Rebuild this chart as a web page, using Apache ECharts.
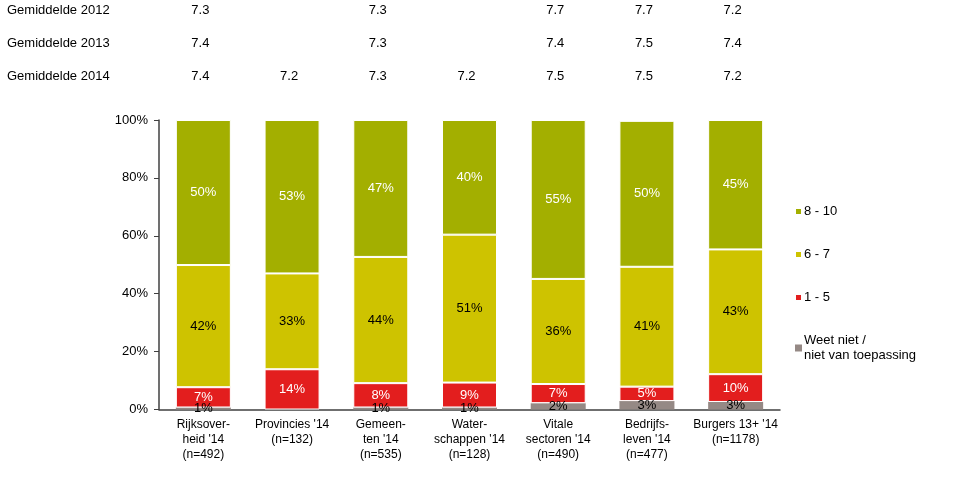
<!DOCTYPE html>
<html><head><meta charset="utf-8">
<script src="https://cdn.jsdelivr.net/npm/echarts@6/dist/echarts.min.js"></script>
<style>html,body{margin:0;padding:0;background:#fff}#c{width:969px;height:477px}</style>
</head><body><div id="c"></div>
<script>
const categories = ["Rijksover-\nheid '14\n(n=492)", "Provincies '14\n(n=132)", "Gemeen-\nten '14\n(n=535)", "Water-\nschappen '14\n(n=128)", "Vitale\nsectoren '14\n(n=490)", "Bedrijfs-\nleven '14\n(n=477)", "Burgers 13+ '14\n(n=1178)"];
const seriesNames = ["Weet niet /\nniet van toepassing", "1 - 5", "6 - 7", "8 - 10"];
const weetNiet = [0.7, null, 0.7, 0.7, 2.2, 2.9, 2.6];
const score1to5 = [7.0, 13.9, 8.4, 8.6, 6.6, 5.0, 9.6];
const score6to7 = [42.2, 33.1, 43.6, 51.1, 36.3, 41.4, 43.1];
const score8to10 = [50.1, 53.0, 47.3, 39.6, 54.9, 50.4, 44.7];
const rowLabels = ["Gemiddelde 2012", "Gemiddelde 2013", "Gemiddelde 2014"];
const gem2012 = [7.3, null, 7.3, null, 7.7, 7.7, 7.2];
const gem2013 = [7.4, null, 7.3, null, 7.4, 7.5, 7.4];
const gem2014 = [7.4, 7.2, 7.3, 7.2, 7.5, 7.5, 7.2];
const yTicks = [0, 20, 40, 60, 80, 100];

const colors = ['#958985', '#E31E1E', '#CEC300', '#A3AF00'];
const labelColors = ['#000', '#fff', '#000', '#fff'];
const FONT = 'Liberation Sans, Arial, sans-serif';
const dataSets = [weetNiet, score1to5, score6to7, score8to10];

const chart = echarts.init(document.getElementById('c'));
const series = dataSets.map((d, i) => ({
  name: seriesNames[i],
  type: 'bar',
  stack: 'total',
  barWidth: 55,
  data: d,
  itemStyle: { color: colors[i], borderColor: '#fff', borderWidth: i === 0 ? 0 : 1 },
  label: {
    show: true, position: 'inside', color: labelColors[i],
    fontFamily: FONT, fontSize: 13,
    formatter: p => (p.value > 0 ? Math.round(p.value) + '%' : '')
  },
  emphasis: { disabled: true },
  z: 2
}));

chart.setOption({
  animation: false,
  backgroundColor: '#fff',
  textStyle: { fontFamily: FONT },
  grid: { left: 159, right: 189, top: 120, bottom: 67.5, containLabel: false },
  legend: {
    orient: 'vertical', left: 789, top: 199,
    data: [seriesNames[3], seriesNames[2], seriesNames[1], seriesNames[0]],
    icon: 'rect', itemWidth: 7, itemHeight: 7, itemGap: 28,
    textStyle: { fontFamily: FONT, fontSize: 13, color: '#000', lineHeight: 15, padding: [0, 0, 0, -3] },
    selectedMode: false
  },
  xAxis: {
    type: 'category', data: categories,
    axisLine: { lineStyle: { color: '#404040', width: 1.5 } },
    axisTick: { show: false },
    axisLabel: { color: '#000', fontFamily: FONT, fontSize: 12, lineHeight: 15, margin: 8, interval: 0 }
  },
  yAxis: {
    type: 'value', min: 0, max: 100, interval: 20,
    axisLine: { show: true, lineStyle: { color: '#404040', width: 1.5 } },
    axisTick: { show: true, length: 5, lineStyle: { color: '#404040' } },
    splitLine: { show: false },
    axisLabel: { color: '#000', fontFamily: FONT, fontSize: 13, margin: 11,
      formatter: v => (yTicks.includes(v) ? v + '%' : '') }
  },
  series: series
});

const rows = [gem2012, gem2013, gem2014];
const rowY = [10, 43, 76];
const elements = [];
rows.forEach((vals, r) => {
  elements.push({ type: 'text', x: 7, y: rowY[r],
    style: { text: rowLabels[r], fill: '#000', font: '13px ' + FONT, textAlign: 'left', textVerticalAlign: 'middle' } });
  vals.forEach((v, i) => {
    if (v == null) return;
    const x = chart.convertToPixel({ xAxisIndex: 0 }, i);
    elements.push({ type: 'text', x: x - 3, y: rowY[r],
      style: { text: v.toFixed(1), fill: '#000', font: '13px ' + FONT, textAlign: 'center', textVerticalAlign: 'middle' } });
  });
});
chart.setOption({ graphic: { elements: elements } });
</script></body></html>
